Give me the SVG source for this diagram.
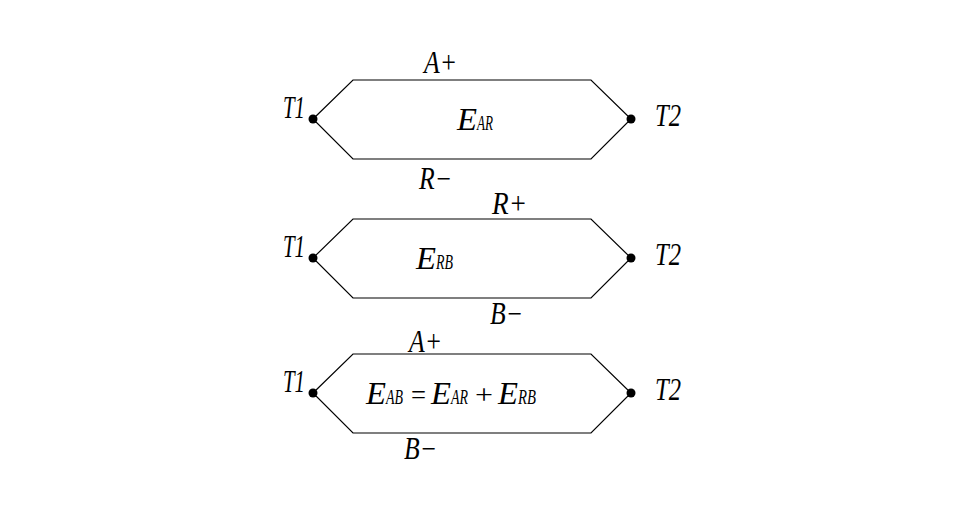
<svg xmlns="http://www.w3.org/2000/svg" width="967" height="517" viewBox="0 0 967 517">
<style>
.w{fill:none;stroke:#000;stroke-width:1.2}
.t{font-family:"Liberation Serif",serif;font-style:italic;font-size:31px;fill:#000}
.s{font-family:"Liberation Serif",serif;font-style:italic;font-size:21px;fill:#000}
.o{font-family:"Liberation Serif",serif;font-size:28px;fill:#000}
.d{fill:#000}
</style>
<rect width="967" height="517" fill="#fff"/>
<g id="connectors">
<polygon class="w" points="313,119 353,80 591,80 631,119 591,159 353,159"/>
<polygon class="w" points="313,258 353,219 591,219 631,258 591,298 353,298"/>
<polygon class="w" points="313,393 353,354 591,354 631,393 591,433 353,433"/>
</g>
<g id="loop1">
<circle class="d" cx="313" cy="119" r="4.5"/>
<circle class="d" cx="631" cy="119" r="4.5"/>
<text class="t" x="283" y="118" textLength="22" lengthAdjust="spacingAndGlyphs">T1</text>
<text class="t" x="655" y="126" textLength="26" lengthAdjust="spacingAndGlyphs">T2</text>
<text class="t" x="424" y="73" textLength="33" lengthAdjust="spacingAndGlyphs">A+</text>
<text class="t" x="419" y="189" textLength="33" lengthAdjust="spacingAndGlyphs">R−</text>
<text class="t" x="457" y="130" textLength="20" lengthAdjust="spacingAndGlyphs">E</text>
<text class="s" x="477" y="130" textLength="16" lengthAdjust="spacingAndGlyphs">AR</text>
</g>
<g id="loop2">
<circle class="d" cx="313" cy="258" r="4.5"/>
<circle class="d" cx="631" cy="258" r="4.5"/>
<text class="t" x="283" y="257" textLength="22" lengthAdjust="spacingAndGlyphs">T1</text>
<text class="t" x="655" y="265" textLength="26" lengthAdjust="spacingAndGlyphs">T2</text>
<text class="t" x="492" y="214" textLength="35" lengthAdjust="spacingAndGlyphs">R+</text>
<text class="t" x="490" y="324" textLength="33" lengthAdjust="spacingAndGlyphs">B−</text>
<text class="t" x="416" y="269" textLength="20" lengthAdjust="spacingAndGlyphs">E</text>
<text class="s" x="436" y="269" textLength="17" lengthAdjust="spacingAndGlyphs">RB</text>
</g>
<g id="loop3">
<circle class="d" cx="313" cy="393" r="4.5"/>
<circle class="d" cx="631" cy="393" r="4.5"/>
<text class="t" x="283" y="392" textLength="22" lengthAdjust="spacingAndGlyphs">T1</text>
<text class="t" x="655" y="400" textLength="26" lengthAdjust="spacingAndGlyphs">T2</text>
<text class="t" x="409" y="352" textLength="33" lengthAdjust="spacingAndGlyphs">A+</text>
<text class="t" x="404" y="459" textLength="33" lengthAdjust="spacingAndGlyphs">B−</text>
<text class="t" x="366" y="404" textLength="20" lengthAdjust="spacingAndGlyphs">E</text>
<text class="s" x="386" y="404" textLength="17" lengthAdjust="spacingAndGlyphs">AB</text>
<text class="o" x="411" y="404" textLength="15" lengthAdjust="spacingAndGlyphs">=</text>
<text class="t" x="431" y="404" textLength="20" lengthAdjust="spacingAndGlyphs">E</text>
<text class="s" x="451" y="404" textLength="17" lengthAdjust="spacingAndGlyphs">AR</text>
<text class="o" x="475" y="404" textLength="18" lengthAdjust="spacingAndGlyphs">+</text>
<text class="t" x="498" y="404" textLength="20" lengthAdjust="spacingAndGlyphs">E</text>
<text class="s" x="518" y="404" textLength="18" lengthAdjust="spacingAndGlyphs">RB</text>
</g>
</svg>
